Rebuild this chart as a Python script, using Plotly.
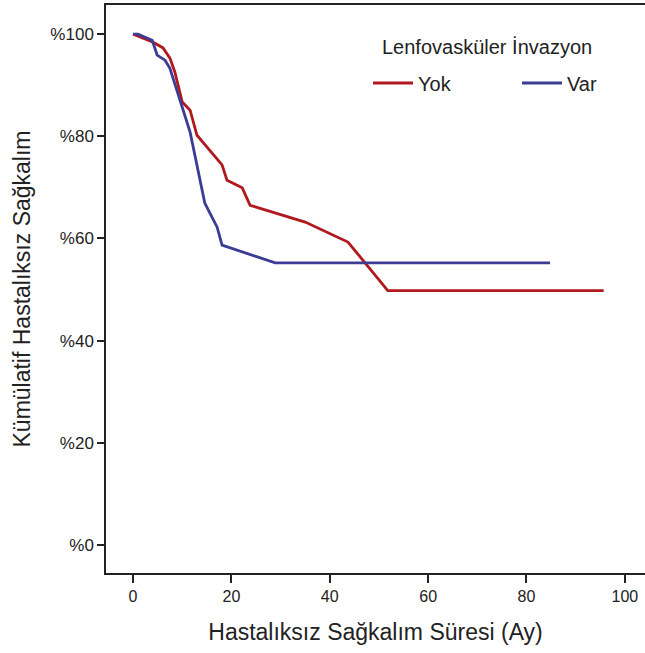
import plotly.graph_objects as go

# Data (months, % survival)
yok_x = [0, 4.1, 6.1, 7.5, 8.5, 10.0, 11.6, 13.0, 18.1, 19.1, 22.2, 23.8, 35.0, 43.7, 51.8, 95.7]
yok_y = [100, 98.4, 97.3, 95.3, 92.6, 86.7, 85.1, 80.2, 74.4, 71.4, 69.9, 66.5, 63.2, 59.3, 49.8, 49.8]
var_x = [0, 1.0, 3.9, 4.9, 6.5, 7.5, 11.6, 12.2, 14.6, 17.1, 18.1, 28.9, 84.8]
var_y = [100, 100, 98.8, 95.9, 94.9, 93.3, 80.8, 77.9, 66.9, 62.2, 58.7, 55.2, 55.2]

y_ticks = [0, 20, 40, 60, 80, 100]
y_tick_labels = ["%0", "%20", "%40", "%60", "%80", "%100"]
x_ticks = [0, 20, 40, 60, 80, 100]
legend_title = "Lenfovasküler İnvazyon"

RED = "#b0191e"
BLUE = "#3c3c94"
TXT = "#222222"

fig = go.Figure()
fig.add_trace(go.Scatter(x=yok_x, y=yok_y, mode="lines", name="Yok",
                         line=dict(color=RED, width=2.8)))
fig.add_trace(go.Scatter(x=var_x, y=var_y, mode="lines", name="Var",
                         line=dict(color=BLUE, width=2.8)))

font_family = "Liberation Sans, Arial, sans-serif"

fig.add_annotation(text=legend_title, xref="paper", yref="paper",
                   x=0.7069, y=0.926, xanchor="center", yanchor="middle",
                   showarrow=False, font=dict(size=20, color=TXT))

fig.update_layout(
    width=645, height=653,
    margin=dict(l=106, r=0, t=5, b=80, autoexpand=False),
    paper_bgcolor="white", plot_bgcolor="white",
    font=dict(family=font_family, color=TXT),
    showlegend=True,
    legend=dict(
        orientation="h",
        x=0.4861, xanchor="left",
        y=0.8627, yanchor="middle",
        font=dict(size=20, color=TXT),
        itemwidth=40,
        entrywidth=94, entrywidthmode="pixels",
        bgcolor="rgba(0,0,0,0)",
    ),
    xaxis=dict(
        range=[-5.5, 104.1],
        tickvals=x_ticks,
        ticks="outside", ticklen=8, tickwidth=1.5, tickcolor=TXT,
        showline=True, linecolor=TXT, linewidth=1.5, mirror=True,
        showgrid=False, zeroline=False,
        tickfont=dict(size=16, color=TXT),
        title=dict(text="Hastalıksız Sağkalım Süresi (Ay)",
                   font=dict(size=23, color=TXT), standoff=20),
    ),
    yaxis=dict(
        range=[-5.5, 105.7],
        tickvals=y_ticks, ticktext=y_tick_labels,
        ticks="outside", ticklen=7, tickwidth=1.5, tickcolor=TXT,
        showline=True, linecolor=TXT, linewidth=1.5,
        showgrid=False, zeroline=False,
        tickfont=dict(size=17, color=TXT),
        title=dict(text="Kümülatif Hastalıksız Sağkalım",
                   font=dict(size=23, color=TXT), standoff=13),
    ),
)

fig.write_html("out.html")
